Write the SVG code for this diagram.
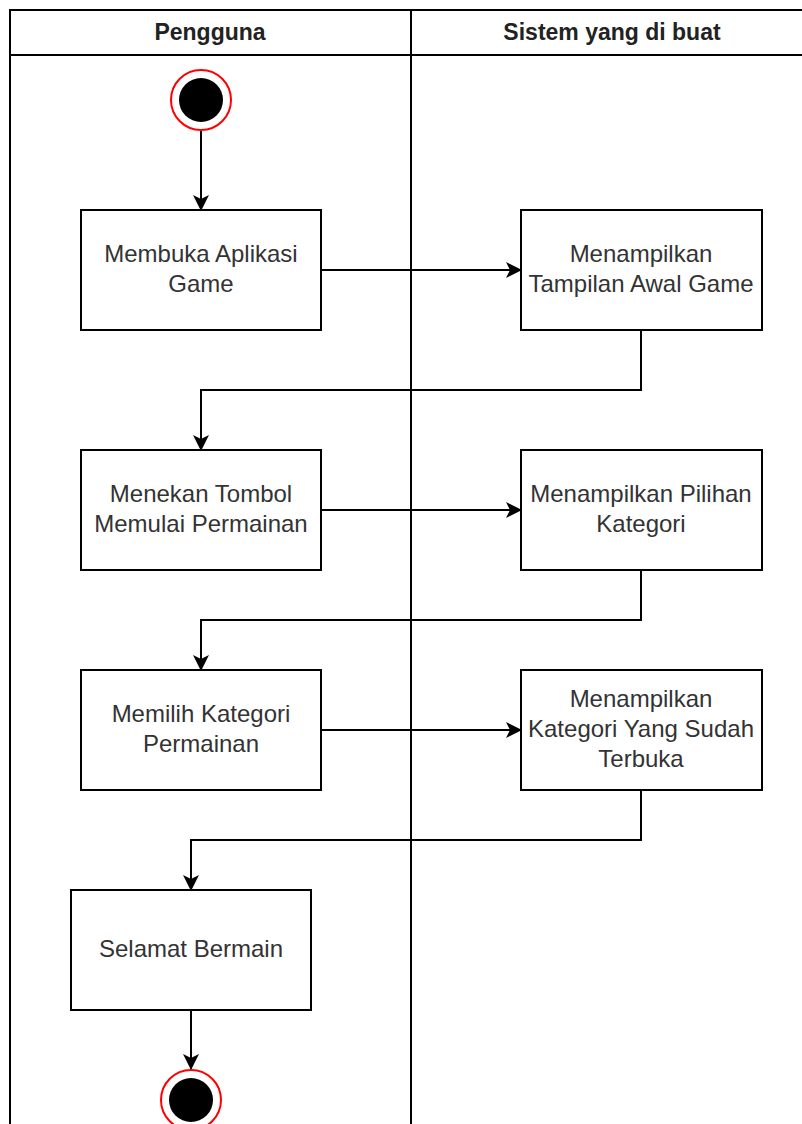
<svg xmlns="http://www.w3.org/2000/svg" width="802" height="1124" viewBox="0 0 802 1124">
<style>
.lane{fill:none;stroke:#000;stroke-width:2}
.box{fill:#fff;stroke:#000;stroke-width:2}
.lbl{font-family:"Liberation Sans",Arial,sans-serif;font-size:24px;fill:#333;text-anchor:middle}
.hdr{font-family:"Liberation Sans",Arial,sans-serif;font-size:23px;font-weight:bold;fill:#222;text-anchor:middle}
.con{fill:none;stroke:#000;stroke-width:2;marker-end:url(#arr)}
.ring{fill:#fff;stroke:#ff0000;stroke-width:2}
</style>
<defs>
<marker id="arr" viewBox="0 0 16 16" refX="15" refY="8" markerWidth="16" markerHeight="16" markerUnits="userSpaceOnUse" orient="auto">
<path d="M0,0 L16,8 L0,16 L4,8 Z" fill="#000"/>
</marker>
</defs>
<rect width="802" height="1124" fill="#fff"/>
<g id="pool">
<path class="lane" d="M10,1124 V10 H802 M10,55 H802 M411,10 V1124"/>
<text class="hdr" x="210" y="40">Pengguna</text>
<text class="hdr" x="612" y="40">Sistem yang di buat</text>
</g>
<g id="connectors">
<path class="con" d="M201,131 V210"/>
<path class="con" d="M321,270 H521"/>
<path class="con" d="M641,330 V390 H201 V450"/>
<path class="con" d="M321,510 H521"/>
<path class="con" d="M641,570 V620 H201 V670"/>
<path class="con" d="M321,730 H521"/>
<path class="con" d="M641,790 V840 H191 V890"/>
<path class="con" d="M191,1010 V1069"/>
</g>
<g id="start">
<circle class="ring" cx="201" cy="100" r="30"/>
<circle cx="201" cy="100" r="22" fill="#000"/>
</g>
<g id="n1">
<rect class="box" x="81" y="210" width="240" height="120"/>
<text class="lbl" x="201" y="262">Membuka Aplikasi</text>
<text class="lbl" x="201" y="292">Game</text>
</g>
<g id="n2">
<rect class="box" x="521" y="210" width="241" height="120"/>
<text class="lbl" x="641" y="262">Menampilkan</text>
<text class="lbl" x="641" y="292">Tampilan Awal Game</text>
</g>
<g id="n3">
<rect class="box" x="81" y="450" width="240" height="120"/>
<text class="lbl" x="201" y="502">Menekan Tombol</text>
<text class="lbl" x="201" y="532">Memulai Permainan</text>
</g>
<g id="n4">
<rect class="box" x="521" y="450" width="241" height="120"/>
<text class="lbl" x="641" y="502">Menampilkan Pilihan</text>
<text class="lbl" x="641" y="532">Kategori</text>
</g>
<g id="n5">
<rect class="box" x="81" y="670" width="240" height="120"/>
<text class="lbl" x="201" y="722">Memilih Kategori</text>
<text class="lbl" x="201" y="752">Permainan</text>
</g>
<g id="n6">
<rect class="box" x="521" y="670" width="241" height="120"/>
<text class="lbl" x="641" y="707">Menampilkan</text>
<text class="lbl" x="641" y="737">Kategori Yang Sudah</text>
<text class="lbl" x="641" y="767">Terbuka</text>
</g>
<g id="n7">
<rect class="box" x="71" y="890" width="240" height="120"/>
<text class="lbl" x="191" y="957">Selamat Bermain</text>
</g>
<g id="end">
<circle class="ring" cx="191" cy="1100" r="30"/>
<circle cx="191" cy="1100" r="22" fill="#000"/>
</g>
</svg>
